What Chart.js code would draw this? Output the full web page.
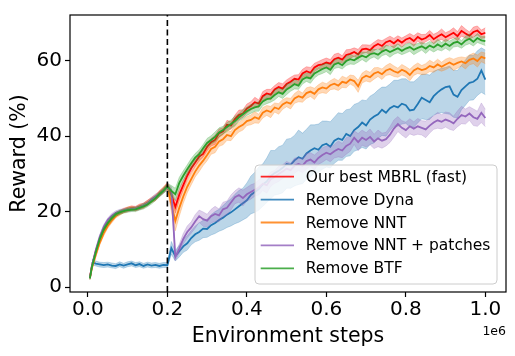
<!DOCTYPE html>
<html><head><meta charset="utf-8">
<script src="https://cdn.jsdelivr.net/npm/chart.js@4"></script>
<style>html,body{margin:0;padding:0;background:#fff}</style>
</head><body>
<canvas id="c" width="515" height="356"></canvas>
<script>
// ---------- data ----------
const steps = [0.005,
 0.01,0.02,0.03,0.04,0.05,0.06,0.07,0.08,0.09,0.10,
 0.11,0.12,0.13,0.14,0.15,0.16,0.17,0.18,0.19,0.20,
 0.21,0.22,0.23,0.24,0.25,0.26,0.27,0.28,0.29,0.30,
 0.31,0.32,0.33,0.34,0.35,0.36,0.37,0.38,0.39,0.40,
 0.41,0.42,0.43,0.44,0.45,0.46,0.47,0.48,0.49,0.50,
 0.51,0.52,0.53,0.54,0.55,0.56,0.57,0.58,0.59,0.60,
 0.61,0.62,0.63,0.64,0.65,0.66,0.67,0.68,0.69,0.70,
 0.71,0.72,0.73,0.74,0.75,0.76,0.77,0.78,0.79,0.80,
 0.81,0.82,0.83,0.84,0.85,0.86,0.87,0.88,0.89,0.90,
 0.91,0.92,0.93,0.94,0.95,0.96,0.97,0.98,0.99,1.00];

const ourBest = [2.5,
 5.5,9.5,12.8,15.0,16.8,18.0,19.2,19.8,20.3,20.6,
 21.0,20.8,21.3,21.6,22.3,23.0,23.6,24.8,25.7,27.0,
 24.5,21.2,24.5,27.0,29.5,31.5,33.0,34.6,35.3,37.2,
 38.4,39.0,40.8,41.3,43.0,42.8,44.5,45.6,46.0,47.3,
 48.0,49.0,48.6,50.6,51.3,51.0,52.4,53.0,52.6,53.8,
 54.4,55.2,55.0,56.6,57.2,56.8,58.2,58.8,59.0,59.5,
 59.2,60.4,60.8,60.3,61.5,61.8,62.3,61.7,63.0,63.2,
 62.8,63.8,64.4,63.9,64.9,65.3,64.6,65.5,64.8,65.6,
 66.0,65.2,66.3,65.6,66.0,66.8,65.7,66.4,67.0,66.2,
 66.8,67.4,66.5,67.9,67.2,66.6,67.6,68.0,67.0,67.4];
const ourBestSpread = [0.4,
 0.5,0.6,0.6,0.6,0.6,0.5,0.6,0.5,0.6,0.6,
 0.5,0.6,0.7,0.6,0.7,0.6,0.7,0.8,0.7,0.8,
 1.2,1.6,1.4,1.2,1.0,1.1,1.0,1.2,0.9,1.1,
 1.0,1.2,1.1,0.9,1.2,1.0,1.1,1.3,1.0,1.2,
 1.1,1.3,1.0,1.2,1.1,1.4,1.0,1.2,1.3,1.1,
 1.2,1.0,1.3,1.1,1.2,1.4,1.1,1.0,1.3,1.2,
 1.1,1.3,1.2,1.0,1.4,1.2,1.1,1.3,1.2,1.0,
 1.3,1.1,1.2,1.4,1.0,1.2,1.3,1.1,1.2,1.0,
 1.2,1.4,1.1,1.3,1.0,1.2,1.3,1.1,1.4,1.2,
 1.1,1.3,1.2,1.4,1.2,1.0,1.3,1.2,1.1,1.3];

const removeDyna = [null,
 6.6,6.2,6.0,5.8,6.0,5.7,5.6,6.0,5.7,6.0,
 6.3,5.8,6.1,5.6,6.0,5.7,5.9,5.6,5.9,5.8,
 10.3,8.2,9.5,10.8,11.6,13.0,14.0,14.6,15.5,15.4,
 16.4,17.0,17.8,18.4,19.2,19.8,20.6,21.4,22.2,23.0,
 24.4,25.2,26.0,27.2,28.0,29.4,30.2,30.8,31.6,32.6,
 32.4,33.6,34.4,34.0,35.4,36.2,36.8,36.4,37.6,38.0,
 37.2,38.8,39.4,39.0,40.6,40.0,41.6,42.4,43.6,42.8,
 44.4,45.2,45.8,47.0,46.2,47.4,48.0,47.6,48.6,48.2,
 46.8,47.0,48.5,50.2,49.6,49.0,50.6,51.6,52.4,53.0,
 53.2,51.0,50.4,52.2,53.2,54.1,54.4,55.2,57.4,55.0];
const removeDynaUp = [null,
 0.8,0.7,0.6,0.7,0.6,0.7,0.6,0.7,0.6,0.7,
 0.6,0.7,0.6,0.7,0.6,0.7,0.6,0.7,0.6,0.7,
 1.8,1.5,1.6,1.8,2.0,2.0,2.2,2.4,2.2,2.6,
 2.8,3.0,2.8,3.2,3.4,3.6,4.0,4.2,4.0,4.6,
 5.0,5.2,5.8,5.4,6.2,6.8,6.0,6.4,6.0,6.6,
 7.0,6.6,7.2,6.8,6.4,6.8,6.2,6.8,6.4,6.0,
 6.6,6.2,6.8,7.0,6.4,7.2,6.8,6.4,6.0,6.6,
 6.2,6.0,6.4,6.0,6.8,6.4,6.8,7.2,6.6,7.0,
 7.6,7.4,6.8,6.2,6.8,7.2,6.6,6.0,5.6,5.2,
 5.4,6.4,7.0,6.6,7.0,7.4,7.0,7.4,6.0,7.8];
const removeDynaDown = [null,
 0.7,0.6,0.7,0.6,0.7,0.6,0.7,0.6,0.7,0.6,
 0.7,0.6,0.7,0.6,0.7,0.6,0.7,0.6,0.7,0.6,
 1.6,1.3,1.5,1.6,1.8,1.8,2.0,2.2,2.4,2.2,
 2.6,2.8,3.0,3.2,3.4,3.6,3.8,4.2,4.4,4.6,
 5.0,5.4,5.6,5.8,5.6,6.0,5.8,6.2,6.6,6.4,
 6.2,6.8,7.2,6.6,6.8,7.0,6.6,6.0,6.4,6.2,
 5.6,6.0,5.8,5.4,6.0,5.2,5.6,6.0,6.6,6.2,
 6.6,7.0,6.4,6.8,6.2,6.0,5.4,5.0,5.4,4.8,
 4.4,4.6,5.0,5.6,5.2,4.6,5.0,5.6,6.2,7.0,
 7.4,6.0,5.6,5.2,5.0,4.6,4.8,4.4,5.8,4.0];

const removeNNT = [2.3,
 5.0,8.6,11.8,14.3,16.2,17.6,18.8,19.6,20.2,20.6,
 20.9,20.7,21.2,21.6,22.4,23.1,23.8,24.7,25.8,26.6,
 22.0,17.5,21.0,24.0,26.6,28.6,30.6,32.2,33.5,35.0,
 36.6,37.2,38.6,39.2,40.3,40.0,41.6,42.4,43.0,44.0,
 44.3,45.0,44.6,46.2,46.8,46.4,47.6,47.2,48.4,49.0,
 48.6,50.0,50.6,50.2,51.4,51.8,51.2,52.4,52.9,52.6,
 53.5,53.9,53.4,54.4,54.1,55.0,54.6,53.2,55.4,56.0,
 55.6,56.6,57.0,56.4,57.4,57.8,57.2,56.8,57.6,57.1,
 56.2,57.4,58.0,57.5,57.8,58.6,58.2,59.0,58.4,59.0,
 59.5,58.9,59.4,59.8,59.3,60.2,60.6,59.9,61.0,60.6];
const removeNNTSpread = [0.4,
 0.5,0.6,0.6,0.7,0.6,0.6,0.5,0.6,0.5,0.6,
 0.6,0.5,0.6,0.7,0.6,0.7,0.7,0.6,0.8,0.8,
 2.0,2.6,2.2,1.8,1.6,1.5,1.4,1.6,1.3,1.5,
 1.4,1.6,1.3,1.5,1.4,1.2,1.5,1.3,1.4,1.2,
 1.3,1.5,1.2,1.4,1.3,1.5,1.2,1.4,1.3,1.2,
 1.4,1.3,1.5,1.2,1.4,1.3,1.5,1.2,1.4,1.3,
 1.2,1.4,1.3,1.5,1.3,1.2,1.4,1.6,1.3,1.4,
 1.3,1.5,1.2,1.4,1.3,1.5,1.4,1.2,1.4,1.3,
 1.5,1.3,1.4,1.2,1.4,1.5,1.3,1.4,1.2,1.4,
 1.3,1.5,1.4,1.2,1.5,1.3,1.4,1.6,1.3,1.4];

const removeNNTPatches = [2.4,
 5.6,9.8,13.4,16.0,17.8,18.9,19.7,20.0,20.3,20.5,
 20.7,20.8,21.1,21.7,22.2,23.2,24.0,24.6,25.6,26.4,
 25.6,8.0,10.2,12.8,14.6,15.8,17.4,18.8,18.0,17.6,
 18.8,19.4,19.0,20.6,21.0,22.4,23.8,24.4,23.6,24.6,
 25.2,25.8,26.4,27.4,27.0,28.6,29.2,30.0,30.6,31.4,
 31.0,32.2,32.6,32.2,33.4,33.8,33.0,34.2,35.0,35.6,
 35.2,36.0,36.6,36.2,37.4,38.0,39.6,38.4,39.6,39.0,
 39.8,38.6,39.4,38.8,39.2,40.4,42.0,43.2,42.2,41.6,
 42.6,42.0,42.6,42.2,41.8,42.8,43.6,44.2,43.8,44.4,
 44.0,43.4,44.6,45.6,45.2,46.0,45.0,44.6,46.2,44.8];
const removeNNTPatchesSpread = [0.4,
 0.5,0.6,0.6,0.6,0.5,0.6,0.5,0.6,0.5,0.5,
 0.6,0.5,0.6,0.6,0.7,0.6,0.7,0.6,0.7,0.8,
 1.0,1.0,1.2,1.4,1.6,1.5,1.8,1.6,1.9,1.7,
 1.8,2.0,1.7,1.9,1.8,2.0,1.7,1.9,2.1,1.8,
 1.9,1.7,2.0,1.8,2.1,1.9,1.7,2.0,1.8,1.9,
 1.8,2.0,1.7,1.9,2.1,1.8,2.0,1.7,1.9,1.8,
 2.0,1.8,2.1,1.9,2.2,2.0,1.8,2.3,2.0,1.9,
 2.1,1.9,2.2,2.0,1.8,2.1,2.3,2.0,1.9,2.1,
 2.0,1.8,2.1,1.9,2.2,2.0,1.8,2.1,1.9,2.0,
 2.2,1.9,2.1,2.3,2.0,1.8,2.2,2.0,2.6,2.3];

const removeBTF = [2.3,
 5.3,9.3,12.8,15.3,17.0,18.3,19.3,19.8,20.1,20.4,
 20.5,20.6,21.0,21.4,21.9,22.7,23.5,24.6,25.5,26.7,
 25.5,24.6,27.6,29.5,31.2,32.8,34.3,35.2,36.8,38.2,
 39.0,39.8,41.0,41.6,42.4,43.2,44.0,45.0,45.8,46.6,
 47.2,47.6,47.9,49.2,49.8,50.0,50.9,51.6,51.2,52.4,
 53.0,53.8,53.4,55.0,55.6,55.3,56.6,57.2,57.8,58.2,
 57.6,59.0,59.4,58.8,59.9,60.4,60.1,60.8,61.3,60.9,
 61.7,62.0,61.6,62.4,62.9,62.3,62.8,63.3,62.6,63.2,
 63.6,62.9,63.4,63.8,63.2,64.0,63.5,64.3,63.7,64.5,
 63.9,64.7,65.0,64.3,65.3,65.8,65.0,66.0,65.4,65.2];
const removeBTFSpread = [0.4,
 0.5,0.5,0.6,0.6,0.5,0.6,0.5,0.6,0.5,0.6,
 0.5,0.6,0.6,0.7,0.6,0.7,0.6,0.7,0.7,0.8,
 1.4,1.6,1.5,1.3,1.2,1.3,1.1,1.2,1.0,1.2,
 1.1,1.3,1.2,1.0,1.2,1.1,1.3,1.0,1.2,1.1,
 1.2,1.0,1.3,1.1,1.2,1.0,1.3,1.1,1.2,1.4,
 1.1,1.3,1.0,1.2,1.1,1.3,1.2,1.0,1.2,1.1,
 1.3,1.1,1.2,1.0,1.2,1.3,1.1,1.2,1.0,1.3,
 1.2,1.0,1.3,1.1,1.2,1.4,1.1,1.2,1.0,1.2,
 1.1,1.3,1.2,1.0,1.3,1.1,1.2,1.4,1.1,1.2,
 1.3,1.1,1.2,1.0,1.2,1.3,1.1,1.2,1.0,1.2];

const seriesLabels = ['Our best MBRL (fast)','Remove Dyna','Remove NNT','Remove NNT + patches','Remove BTF'];
const xTicks = [0.0,0.2,0.4,0.6,0.8,1.0];
const yTicks = [0,20,40,60];
const xRange = [-0.045, 1.052];
const yRange = [-1.3, 72.1];
const dividerX = 0.2;

// ---------- build ----------
const palette = [[255,0,0],[31,119,180],[255,127,14],[148,103,189],[44,160,44]];
const seriesDefs = [
  {vals: ourBest, up: ourBestSpread, down: ourBestSpread},
  {vals: removeDyna, up: removeDynaUp, down: removeDynaDown},
  {vals: removeNNT, up: removeNNTSpread, down: removeNNTSpread},
  {vals: removeNNTPatches, up: removeNNTPatchesSpread, down: removeNNTPatchesSpread},
  {vals: removeBTF, up: removeBTFSpread, down: removeBTFSpread}
];
const rgba = (c,a) => `rgba(${c[0]},${c[1]},${c[2]},${a})`;
const datasets = [];
seriesDefs.forEach((s, k) => {
  const c = palette[k];
  const lo = [], hi = [], mid = [];
  steps.forEach((x, i) => {
    const v = s.vals[i];
    if (v == null) return;
    lo.push({x, y: v - s.down[i]});
    hi.push({x, y: v + s.up[i]});
    mid.push({x, y: v});
  });
  datasets.push({data: lo, borderColor: rgba(c,0.3), borderWidth: 0.8, pointRadius: 0, fill: false, tension: 0});
  datasets.push({data: hi, borderColor: rgba(c,0.3), borderWidth: 0.8, pointRadius: 0, fill: '-1', backgroundColor: rgba(c,0.3), tension: 0});
  datasets.push({label: seriesLabels[k], data: mid, borderColor: rgba(c,1), borderWidth: 1.8, pointRadius: 0, fill: false, tension: 0});
});
datasets.push({data: [{x: dividerX, y: yRange[0]}, {x: dividerX, y: yRange[1]}], borderColor: '#000', borderWidth: 1.6, borderDash: [6, 3.5], pointRadius: 0, fill: false});
datasets.forEach((d, i) => { d.order = datasets.length - i; });

const FONT = "'DejaVu Sans', sans-serif";

const mplPlugin = {
  id: 'mpl',
  afterDatasetsDraw(chart) {
    const {ctx, chartArea: a} = chart;
    ctx.save();
    ctx.strokeStyle = '#000';
    ctx.lineWidth = 1.2;
    ctx.strokeRect(a.left, a.top, a.right - a.left, a.bottom - a.top);
    ctx.restore();
  },
  afterDraw(chart) {
    const {ctx, chartArea: a} = chart;
    ctx.save();
    // legend
    const w = 242, h = 119;
    const x0 = a.right - 9 - w, y0 = a.bottom - 8 - h;
    const r = 4;
    ctx.beginPath();
    ctx.moveTo(x0 + r, y0);
    ctx.arcTo(x0 + w, y0, x0 + w, y0 + h, r);
    ctx.arcTo(x0 + w, y0 + h, x0, y0 + h, r);
    ctx.arcTo(x0, y0 + h, x0, y0, r);
    ctx.arcTo(x0, y0, x0 + w, y0, r);
    ctx.closePath();
    ctx.fillStyle = 'rgba(255,255,255,0.8)';
    ctx.fill();
    ctx.strokeStyle = '#cccccc';
    ctx.lineWidth = 1;
    ctx.stroke();
    ctx.font = `15.5px ${FONT}`;
    ctx.textBaseline = 'middle';
    ctx.textAlign = 'left';
    seriesLabels.forEach((lab, i) => {
      const yy = y0 + 11.7 + i * 22.9;
      ctx.strokeStyle = rgba(palette[i], 0.85);
      ctx.lineWidth = 1.8;
      ctx.beginPath();
      ctx.moveTo(x0 + 5.7, yy);
      ctx.lineTo(x0 + 39, yy);
      ctx.stroke();
      ctx.fillStyle = '#000';
      ctx.fillText(lab, x0 + 50.7, yy + 1);
    });
    // offset text
    ctx.font = `12.5px ${FONT}`;
    ctx.textAlign = 'right';
    ctx.textBaseline = 'alphabetic';
    ctx.fillText('1e6', a.right, 335);
    ctx.restore();
  }
};

new Chart(document.getElementById('c'), {
  type: 'line',
  data: {datasets},
  options: {
    responsive: false,
    animation: false,
    devicePixelRatio: 1,
    layout: {padding: {left: 0, right: 9, top: 9, bottom: 0}},
    plugins: {legend: {display: false}, tooltip: {enabled: false}},
    scales: {
      x: {
        type: 'linear', min: xRange[0], max: xRange[1],
        afterBuildTicks: s => { s.ticks = xTicks.map(v => ({value: v})); },
        afterFit: s => { s.height = 64; },
        ticks: {callback: v => Number(v).toFixed(1), font: {family: FONT, size: 20}, color: '#000', padding: 1, maxRotation: 0, autoSkip: false},
        grid: {drawOnChartArea: false, drawTicks: true, tickLength: 5, tickColor: '#000', tickWidth: 1.2},
        border: {display: false},
        title: {display: true, text: 'Environment steps', font: {family: FONT, size: 20.5}, color: '#000', padding: {top: 0, bottom: 7}}
      },
      y: {
        type: 'linear', min: yRange[0], max: yRange[1],
        afterBuildTicks: s => { s.ticks = yTicks.map(v => ({value: v})); },
        afterFit: s => { s.width = 70; },
        ticks: {callback: v => String(v), font: {family: FONT, size: 20}, color: '#000', padding: 3},
        grid: {drawOnChartArea: false, drawTicks: true, tickLength: 5, tickColor: '#000', tickWidth: 1.2},
        border: {display: false},
        title: {display: true, text: 'Reward (%)', font: {family: FONT, size: 20.5}, color: '#000', padding: {top: 7, bottom: 0}}
      }
    }
  },
  plugins: [mplPlugin]
});
</script>
</body></html>
